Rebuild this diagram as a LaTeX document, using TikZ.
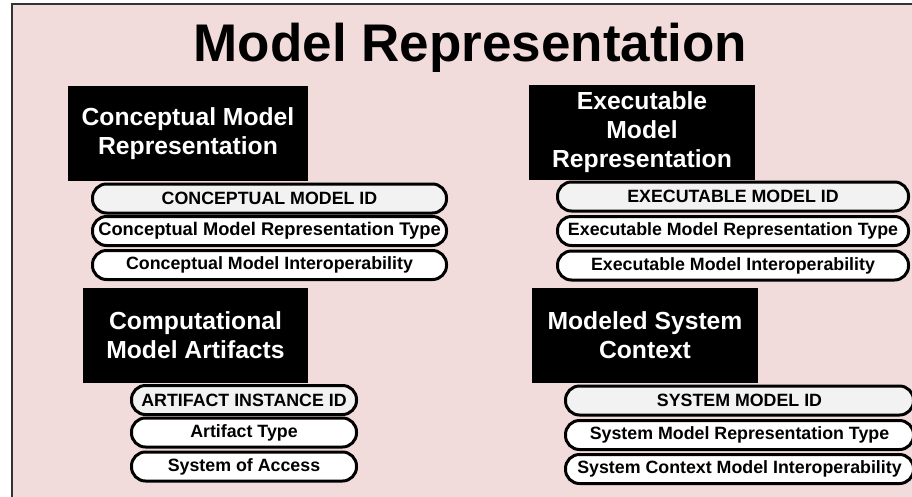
\documentclass[tikz,border=0pt]{standalone}
\usepackage{fontspec}
\setmainfont{Liberation Sans}
\definecolor{slidepink}{RGB}{242,220,219}
\definecolor{idgray}{RGB}{242,242,242}

\begin{document}
\begin{tikzpicture}[x=1pt,y=-1pt,
	header/.style={fill=black, text=white, align=center, inner sep=0pt,
		font=\fontsize{24.7}{29}\selectfont\bfseries},
	field/.style={draw=black, line width=3pt, fill=white, rounded corners=14pt,
		minimum height=29pt, inner sep=0pt, font=\fontsize{17.8}{20}\selectfont\bfseries},
	idfield/.style={field, fill=idgray}]

	\useasboundingbox (0,0) rectangle (912,496);
	\draw[fill=slidepink, draw=black!80, line width=2pt] (12,4) rectangle (930,512);
	\node[anchor=base, font=\fontsize{53}{60}\selectfont\bfseries] (title) at (470.5,61) {Model Representation};

	\node[header, minimum width=240pt, minimum height=95pt] (concept) at (188,133.5) {Conceptual Model\\Representation};
	\node[idfield, minimum width=354pt] (conceptid) at (269.5,198.5) {CONCEPTUAL MODEL ID};
	\node[field, minimum width=354pt, font=\fontsize{18.3}{20}\selectfont\bfseries] (concepttype) at (269.5,231) {Conceptual Model Representation Type};
	\node[field, minimum width=354pt] (conceptinterop) at (269.5,265) {Conceptual Model Interoperability};

	\node[header, minimum width=226pt, minimum height=95pt] (exec) at (642,132.5) {Executable\\Model\\Representation};
	\node[idfield, minimum width=351pt] (execid) at (733,196.5) {EXECUTABLE MODEL ID};
	\node[field, minimum width=351pt] (exectype) at (733,231) {Executable Model Representation Type};
	\node[field, minimum width=351pt] (execinterop) at (733,265.5) {Executable Model Interoperability};

	\node[header, minimum width=225pt, minimum height=95pt] (artifacts) at (195.5,335.5) {Computational\\Model Artifacts};
	\node[idfield, minimum width=225pt] (artifactid) at (244,400) {ARTIFACT INSTANCE ID};
	\node[field, minimum width=225pt] (artifacttype) at (244,432.5) {Artifact Type};
	\node[field, minimum width=225pt] (access) at (244,466.5) {System of Access};

	\node[header, minimum width=226pt, minimum height=95pt] (context) at (645,335.5) {Modeled System\\Context};
	\node[idfield, minimum width=348pt] (systemid) at (739.5,400.5) {SYSTEM MODEL ID};
	\node[field, minimum width=348pt] (systemtype) at (739.5,435) {System Model Representation Type};
	\node[field, minimum width=348pt] (systeminterop) at (739.5,469) {System Context Model Interoperability};

\end{tikzpicture}
\end{document}
